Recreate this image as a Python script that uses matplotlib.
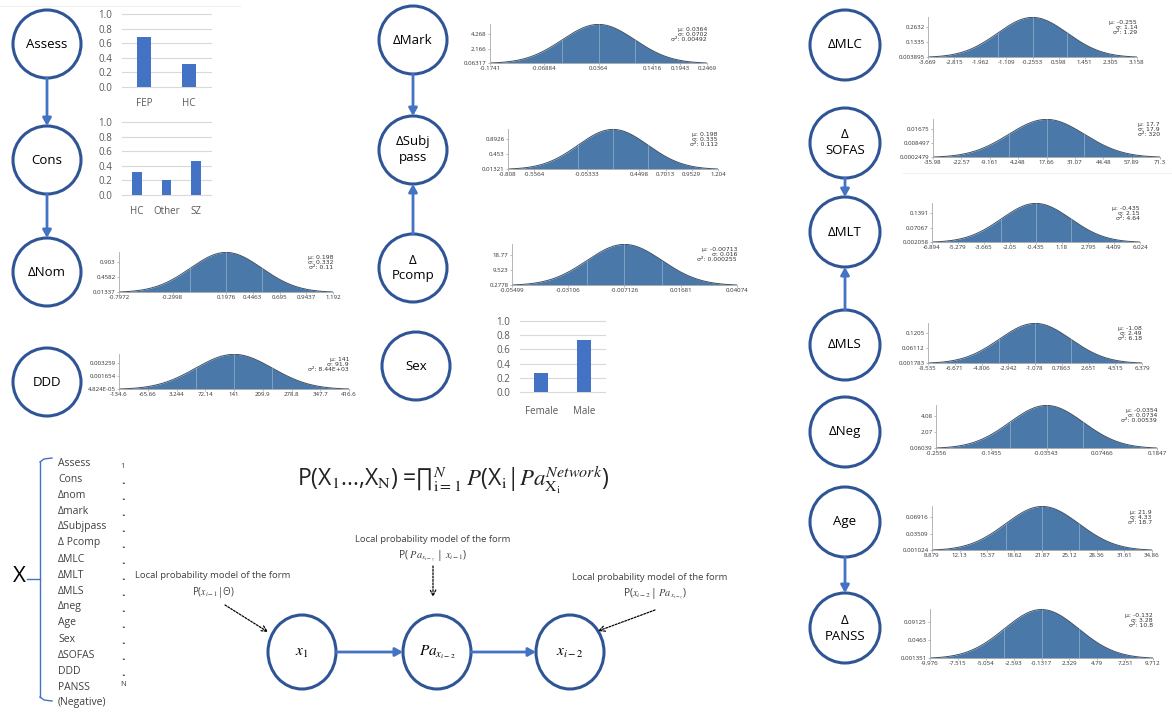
import numpy as np
import matplotlib.pyplot as plt
from matplotlib.patches import Ellipse

W, H = 1172, 713

plt.rcParams['font.family'] = ['Open Sans', 'DejaVu Sans']
plt.rcParams['mathtext.fontset'] = 'stix'

# categorical nodes (bar charts)
assess_cats = ['FEP', 'HC']
assess_vals = [0.69, 0.31]
cons_cats = ['HC', 'Other', 'SZ']
cons_vals = [0.31, 0.21, 0.47]
sex_cats = ['Female', 'Male']
sex_vals = [0.27, 0.73]
bar_yticks = [0.0, 0.2, 0.4, 0.6, 0.8, 1.0]

# continuous nodes (gaussians): mean, sd, variance as printed
gauss_keys = ['nom', 'ddd', 'mark', 'subj', 'pcomp', 'mlc',
              'sofas', 'mlt', 'mls', 'neg', 'age', 'panss']
gauss_mu = ['0.198', '141', '0.0364', '0.198', '-0.00713', '-0.255',
            '17.7', '-0.435', '-1.08', '-0.0354', '21.9', '-0.132']
gauss_sd = ['0.332', '91.9', '0.0702', '0.335', '0.016', '1.14',
            '17.9', '2.15', '2.49', '0.0734', '4.33', '3.28']
gauss_var = ['0.11', '8.44E+03', '0.00492', '0.112', '0.000255', '1.29',
             '320', '4.64', '6.18', '0.00539', '18.7', '10.8']

nom_xt = ['-0.7972', '-0.2998', '0.1976', '0.4463', '0.695', '0.9437', '1.192']
nom_yt = ['0.01337', '0.4582', '0.903']
ddd_xt = ['-134.6', '-65.66', '3.244', '72.14', '141', '209.9', '278.8', '347.7', '416.6']
ddd_yt = ['4.824E-05', '0.001654', '0.003259']
mark_xt = ['-0.1741', '-0.06884', '0.0364', '0.1416', '0.1943', '0.2469']
mark_yt = ['0.06317', '2.166', '4.268']
subj_xt = ['-0.808', '-0.5564', '-0.05333', '0.4498', '0.7013', '0.9529', '1.204']
subj_yt = ['0.01321', '0.453', '0.8926']
pcomp_xt = ['-0.05499', '-0.03106', '-0.007126', '0.01681', '0.04074']
pcomp_yt = ['0.2778', '9.523', '18.77']
mlc_xt = ['-3.669', '-2.815', '-1.962', '-1.109', '-0.2553', '0.598', '1.451', '2.305', '3.158']
mlc_yt = ['0.003895', '0.1335', '0.2632']
sofas_xt = ['-35.98', '-22.57', '-9.161', '4.248', '17.66', '31.07', '44.48', '57.89', '71.3']
sofas_yt = ['0.0002479', '0.008497', '0.01675']
mlt_xt = ['-6.894', '-5.279', '-3.665', '-2.05', '-0.435', '1.18', '2.795', '4.409', '6.024']
mlt_yt = ['0.002058', '0.07067', '0.1391']
mls_xt = ['-8.535', '-6.671', '-4.806', '-2.942', '-1.078', '0.7863', '2.651', '4.515', '6.379']
mls_yt = ['0.001783', '0.06112', '0.1205']
neg_xt = ['-0.2556', '-0.1455', '-0.03543', '0.07466', '0.1847']
neg_yt = ['0.06039', '2.07', '4.08']
age_xt = ['8.879', '12.13', '15.37', '18.62', '21.87', '25.12', '28.36', '31.61', '34.86']
age_yt = ['0.001024', '0.03509', '0.06916']
panss_xt = ['-9.976', '-7.515', '-5.054', '-2.593', '-0.1317', '2.329', '4.79', '7.251', '9.712']
panss_yt = ['0.001351', '0.0463', '0.09125']

var_list = ['Assess', 'Cons', 'Δnom', 'Δmark', 'ΔSubjpass', 'Δ Pcomp', 'ΔMLC',
            'ΔMLT', 'ΔMLS', 'Δneg', 'Age', 'Sex', 'ΔSOFAS', 'DDD', 'PANSS',
            '(Negative)']

BAR_BLUE = '#4472C4'
GAUSS_BLUE = '#4a78a8'
RING = '#2F5597'

fig = plt.figure(figsize=(W / 100, H / 100), dpi=100)
canvas = fig.add_axes([0, 0, 1, 1])
canvas.set_xlim(0, W)
canvas.set_ylim(H, 0)
canvas.axis('off')


def px_axes(left, top, right, bottom):
    return fig.add_axes([left / W, 1 - bottom / H, (right - left) / W, (bottom - top) / H])


def node(x, y, label, w=68, h=68, size=9.5, **kw):
    canvas.add_patch(Ellipse((x, y), w, h, facecolor='white', edgecolor=RING, lw=2.2, zorder=3))
    canvas.text(x, y, label, ha='center', va='center', fontsize=size, zorder=4,
                linespacing=1.3, **kw)


def link(x0, y0, x1, y1):
    canvas.annotate('', xy=(x1, y1), xytext=(x0, y0),
                    arrowprops=dict(arrowstyle='-|>,head_width=0.25,head_length=0.45',
                                    color=BAR_BLUE, lw=2, shrinkA=0, shrinkB=0))


def bar_panel(box, cats, vals, pad=8):
    ax = px_axes(*box)
    ax.bar(range(len(cats)), vals, width=0.32, color=BAR_BLUE, zorder=2)
    ax.set_xlim(-0.5, len(cats) - 0.5)
    ax.set_ylim(0, 1)
    ax.set_yticks(bar_yticks)
    ax.set_yticklabels([f'{v:.1f}' for v in bar_yticks])
    ax.set_xticks(range(len(cats)))
    ax.set_xticklabels(cats)
    for v in bar_yticks:
        ax.axhline(v, color='#d9d9d9', lw=0.8, zorder=1, clip_on=False)
    for s in ax.spines.values():
        s.set_visible(False)
    ax.tick_params(axis='y', length=0, pad=7, labelsize=7, labelcolor='#595959')
    ax.tick_params(axis='x', length=0, pad=pad, labelsize=7, labelcolor='#595959')
    ax.patch.set_alpha(0)


def gauss_panel(box, mu, sd, var, xt, yt):
    ax = px_axes(*box)
    m, s = float(mu), float(sd)
    x0, x1 = float(xt[0]), float(xt[-1])
    y0 = float(yt[0])
    xs = np.linspace(x0, x1, 400)
    pdf = np.exp(-0.5 * ((xs - m) / s) ** 2) / (s * np.sqrt(2 * np.pi))
    ax.fill_between(xs, y0, np.maximum(pdf, y0), color=GAUSS_BLUE, lw=0)
    ax.plot(xs, pdf, color='#3d4f63', lw=0.7)
    for v in (m - s, m, m + s):
        pv = np.exp(-0.5 * ((v - m) / s) ** 2) / (s * np.sqrt(2 * np.pi))
        ax.plot([v, v], [y0, pv], color='white', lw=0.6, alpha=0.35)
    ax.set_xlim(x0, x1)
    ax.set_ylim(y0, pdf.max() * 1.01)
    ax.set_xticks([float(t) for t in xt])
    ax.set_xticklabels(xt)
    ax.set_yticks([float(t) for t in yt])
    ax.set_yticklabels(yt)
    ax.tick_params(length=1.5, width=0.4, pad=1, labelsize=4.4, labelcolor='#333333',
                   color='#888888')
    for k in ('top', 'right'):
        ax.spines[k].set_visible(False)
    for k in ('left', 'bottom'):
        ax.spines[k].set_color('#aaaaaa')
        ax.spines[k].set_linewidth(0.6)
    ax.patch.set_alpha(0)
    ax.text(1.0, 0.92, f'µ: {mu}\nσ: {sd}\nσ²: {var}', transform=ax.transAxes,
            ha='right', va='top', fontsize=4.4, color='#333333', linespacing=1.0,
            family='DejaVu Sans')
    return ax


# faint frame lines of the pasted panels
canvas.plot([0, 240], [6, 6], color='#f0f0f0', lw=0.8)
canvas.plot([903, W], [173, 173], color='#f0f0f0', lw=0.8)

# left column
node(47, 44, 'Assess')
node(47, 160, 'Cons')
node(47, 272, 'ΔNom')
node(47, 382, 'DDD')
link(47, 78, 47, 126)
link(47, 194, 47, 238)

# middle column
node(413, 40, 'ΔMark')
node(413, 150, 'ΔSubj\npass')
node(413, 268, 'Δ\nPcomp')
node(416, 366, 'Sex')
link(413, 74, 413, 116)
link(413, 234, 413, 184)

# right column
node(845, 45, 'ΔMLC', w=70, h=70)
node(845, 143, 'Δ\nSOFAS', w=70, h=70)
node(845, 232, 'ΔMLT', w=70, h=70)
node(845, 345, 'ΔMLS', w=70, h=70)
node(845, 432, 'ΔNeg', w=70, h=70)
node(845, 522, 'Age', w=70, h=70)
node(845, 628, 'Δ\nPANSS', w=70, h=70)
link(845, 178, 845, 197)
link(845, 310, 845, 267)
link(845, 557, 845, 593)

bar_panel((122, 14, 211, 87), assess_cats, assess_vals)
bar_panel((122, 122, 211, 195), cons_cats, cons_vals)
bar_panel((520, 321, 605, 392), sex_cats, sex_vals, pad=10)

boxes = [(119, 252, 333, 292), (119, 354, 349, 389), (490, 24, 707, 63),
         (508, 129, 718, 169), (512, 244, 737, 285), (928, 17, 1137, 57),
         (933, 119, 1160, 157), (932, 203, 1140, 242), (928, 323, 1142, 363),
         (936, 405, 1157, 448), (932, 506, 1152, 550), (930, 609, 1153, 658)]
ticks = [(nom_xt, nom_yt), (ddd_xt, ddd_yt), (mark_xt, mark_yt), (subj_xt, subj_yt),
         (pcomp_xt, pcomp_yt), (mlc_xt, mlc_yt), (sofas_xt, sofas_yt), (mlt_xt, mlt_yt),
         (mls_xt, mls_yt), (neg_xt, neg_yt), (age_xt, age_yt), (panss_xt, panss_yt)]
for box, mu, sd, var, (xt, yt) in zip(boxes, gauss_mu, gauss_sd, gauss_var, ticks):
    gauss_panel(box, mu, sd, var, xt, yt)

# variable list with brace
canvas.text(19, 577, 'X', ha='center', va='center', fontsize=16)
canvas.plot([27, 40], [579, 579], color=BAR_BLUE, lw=1)
canvas.plot([40, 40], [462, 697], color=BAR_BLUE, lw=1)
canvas.plot([40, 44, 52], [462, 459, 458], color=BAR_BLUE, lw=1)
canvas.plot([40, 44, 52], [697, 700, 701], color=BAR_BLUE, lw=1)
for i, name in enumerate(var_list):
    canvas.text(58, 463 + 16 * i, name, ha='left', va='center', fontsize=7.5, color='#404040')
canvas.text(123, 467, '1', ha='center', va='center', fontsize=5.5, color='#404040')
for i in range(1, 14):
    canvas.text(123, 467 + 16 * i - 2, '.', ha='center', va='center', fontsize=9,
                fontweight='bold', color='#404040')
canvas.text(123, 684, 'N', ha='center', va='center', fontsize=5.5, color='#404040')

# joint probability formula
canvas.text(297, 480,
            'P(X$_\\mathrm{1}$...,X$_\\mathrm{N}$) =∏$_\\mathrm{i=1}^{N}\\;P$'
            '(X$_\\mathrm{i}$|$Pa_{\\mathrm{X_i}}^{Network}$)',
            ha='left', va='center', fontsize=16.5, color='#222222')

# example chain
node(302, 652, r'$x_1$', w=68, h=74, size=11)
node(437, 652, r'$Pa_{x_{i-2}}$', w=68, h=74, size=11)
node(570, 652, r'$x_{i-2}$', w=68, h=74, size=11)
link(336, 652, 403, 652)
link(471, 652, 536, 652)

dot_arrow = dict(arrowstyle='->', color='black', lw=0.9, linestyle=(0, (1.5, 1.2)),
                 shrinkA=0, shrinkB=0)
canvas.text(213, 576, 'Local probability model of the form', ha='center', va='center',
            fontsize=6.8, color='#404040')
canvas.text(213, 592, r'P($x_{i-1}$|Θ)', ha='center', va='center', fontsize=7, color='#404040')
canvas.annotate('', xy=(268, 632), xytext=(225, 605), arrowprops=dot_arrow)

canvas.text(433, 540, 'Local probability model of the form', ha='center', va='center',
            fontsize=6.8, color='#404040')
canvas.text(433, 556, r'P( $Pa_{x_{i-z}}$ | $x_{i-1}$)', ha='center', va='center',
            fontsize=7.5, color='#404040')
canvas.annotate('', xy=(433, 597), xytext=(433, 566), arrowprops=dot_arrow)

canvas.text(650, 577, 'Local probability model of the form', ha='center', va='center',
            fontsize=6.8, color='#404040')
canvas.text(655, 594, r'P($x_{i-2}$| $Pa_{x_{i-z}}$)', ha='center', va='center',
            fontsize=7.5, color='#404040')
canvas.annotate('', xy=(598, 631), xytext=(655, 610), arrowprops=dot_arrow)

fig.savefig('out.png', dpi=100)
